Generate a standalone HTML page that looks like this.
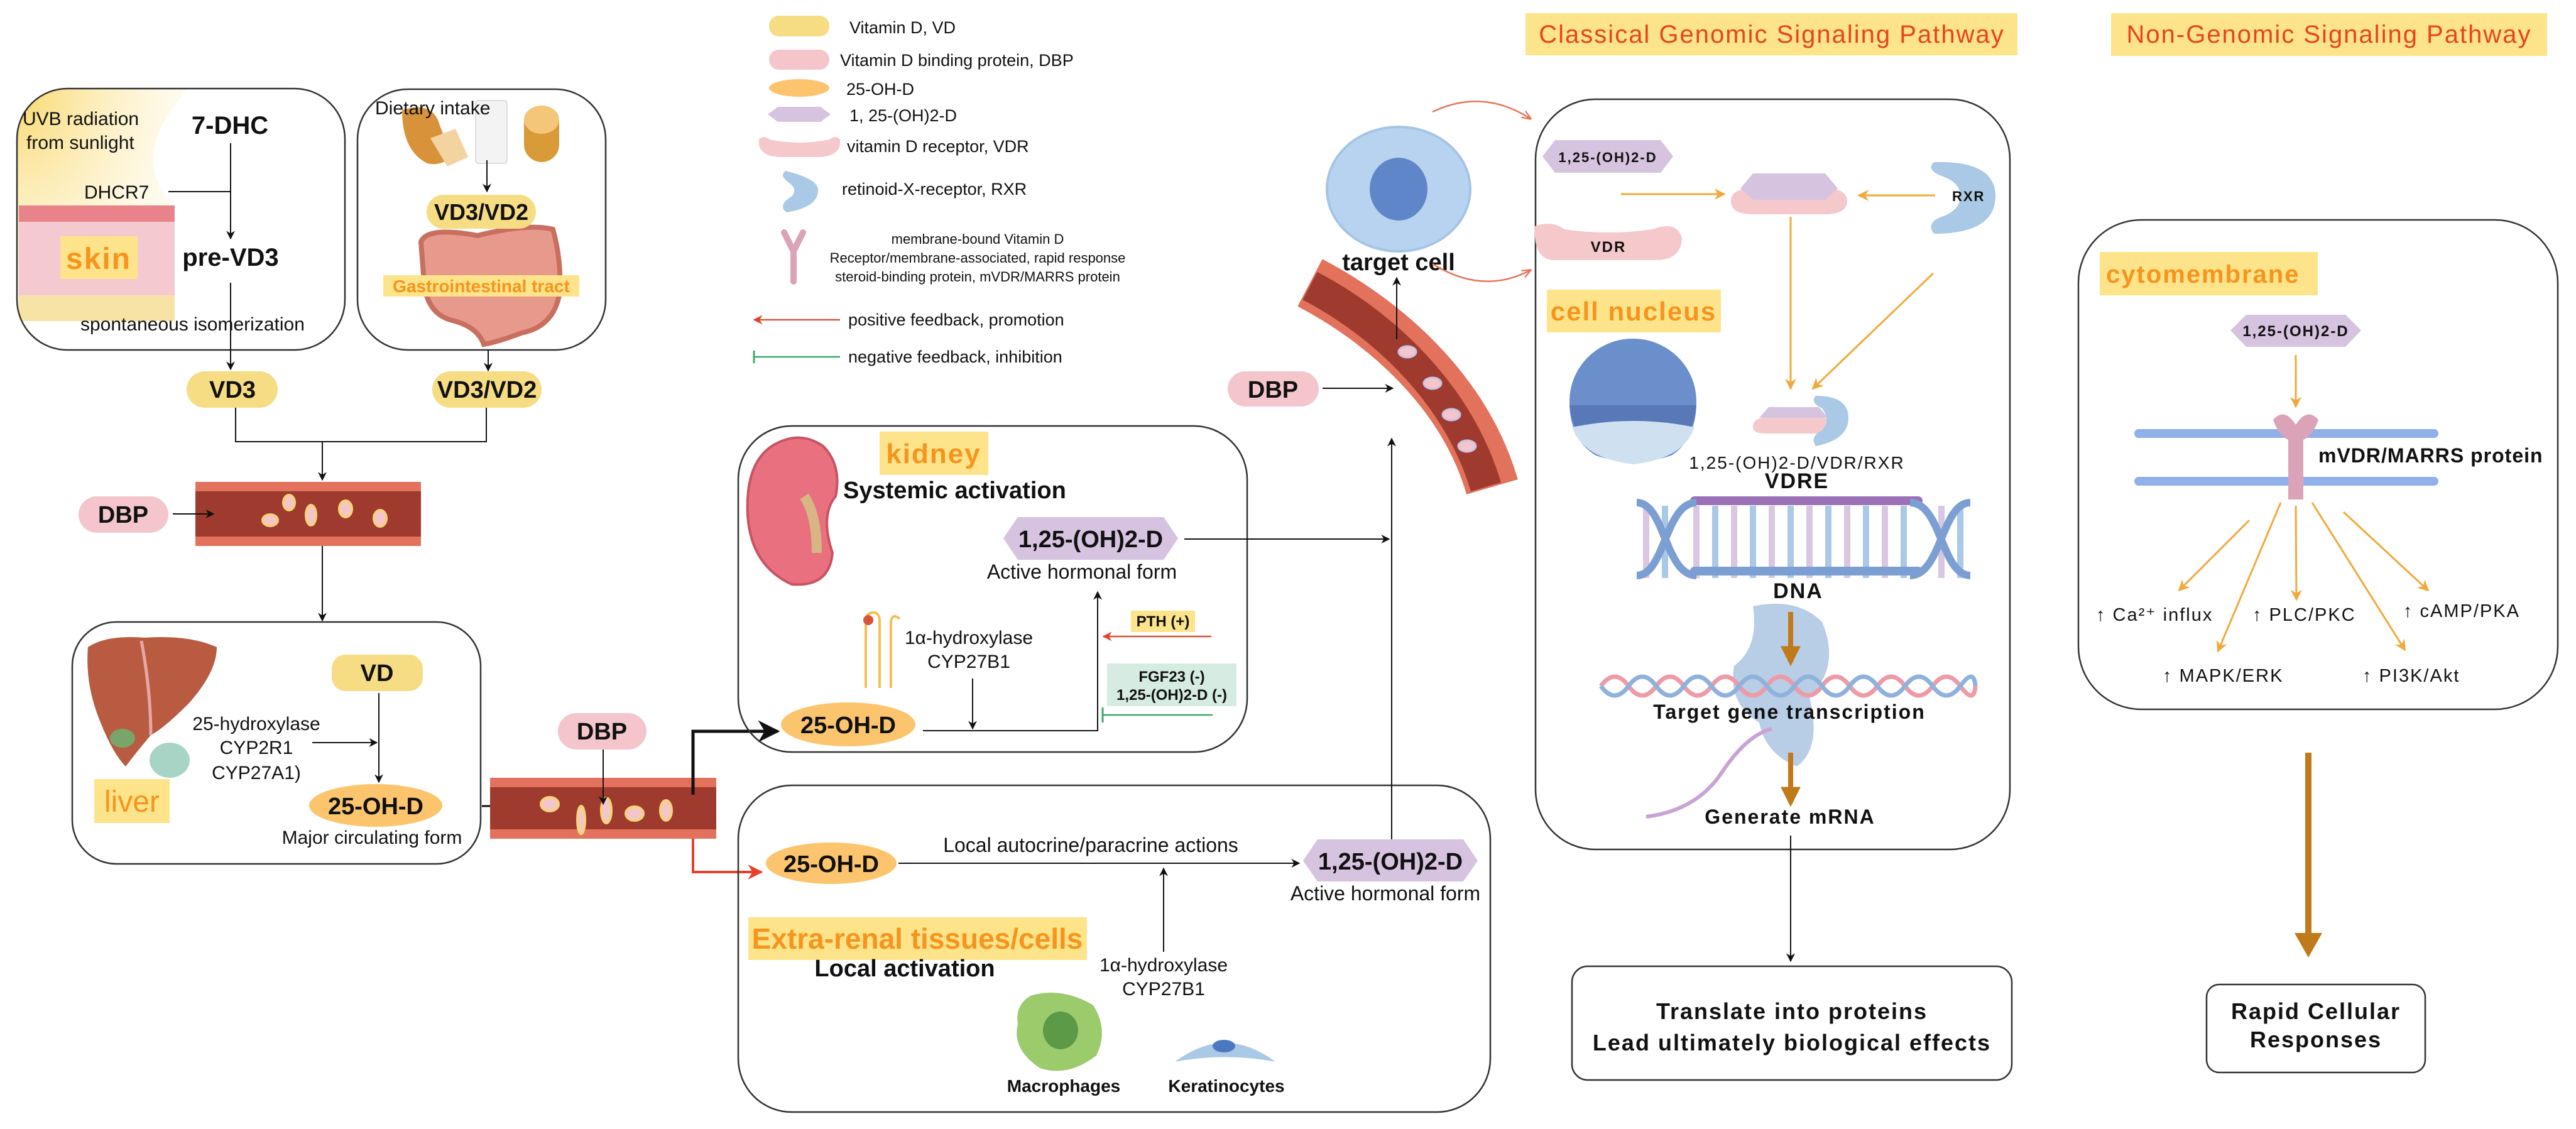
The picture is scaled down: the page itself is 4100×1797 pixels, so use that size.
<!DOCTYPE html>
<html><head><meta charset="utf-8"><style>
html,body{margin:0;padding:0;background:#fff}
svg{display:block}
.n{font-family:"Liberation Sans Narrow","Liberation Sans",sans-serif}
.w{font-family:"Liberation Sans",sans-serif;letter-spacing:2px}
</style></head><body>
<svg width="4100" height="1797" viewBox="0 0 4100 1797" xmlns="http://www.w3.org/2000/svg">
<defs>
<marker id="a" viewBox="0 0 10 10" refX="9" refY="5" markerWidth="7" markerHeight="7" orient="auto-start-reverse"><path d="M0,0L10,5L0,10L3,5z" fill="#111"/></marker>
<marker id="ar" viewBox="0 0 10 10" refX="9" refY="5" markerWidth="6" markerHeight="6" orient="auto"><path d="M0,0L10,5L0,10L3,5z" fill="#e5412a"/></marker>
<marker id="ao" viewBox="0 0 10 10" refX="9" refY="5" markerWidth="6" markerHeight="6" orient="auto"><path d="M0,0L10,5L0,10L3,5z" fill="#f2a93b"/></marker>
<marker id="ab" viewBox="0 0 10 10" refX="8" refY="5" markerWidth="4" markerHeight="4" orient="auto"><path d="M0,0L10,5L0,10z" fill="#c07a1a"/></marker>
<marker id="ac" viewBox="0 0 10 10" refX="9" refY="5" markerWidth="6" markerHeight="6" orient="auto"><path d="M0,1L10,5L0,9" fill="none" stroke="#e8735a" stroke-width="1.5"/></marker>
<radialGradient id="sun" cx="0" cy="0" r="1"><stop offset="0" stop-color="#f9d86a"/><stop offset="1" stop-color="#fdf3cf" stop-opacity="0.3"/></radialGradient>
<clipPath id="skc"><rect x="27" y="141" width="522" height="416" rx="80"/></clipPath>
<pattern id="bil" x="3397" y="0" width="16" height="100" patternUnits="userSpaceOnUse"><line x1="6" y1="690" x2="6" y2="766" stroke="#c9d3e6" stroke-width="1.5"/><line x1="10" y1="690" x2="10" y2="766" stroke="#c9d3e6" stroke-width="1.5"/></pattern>
</defs>

<!-- ===== Skin box ===== -->
<g clip-path="url(#skc)">
<path d="M27,141 L300,141 Q200,250 278,327 L278,511 L27,511 Z" fill="url(#sun)"/>
<rect x="30" y="327" width="248" height="184" fill="#f5c9d0"/>
<rect x="30" y="327" width="248" height="26" fill="#e8838a"/>
<rect x="30" y="470" width="248" height="41" fill="#f8e3a6"/>
</g>
<rect x="27" y="141" width="522" height="416" rx="80" fill="none" stroke="#333" stroke-width="2.5"/>
<rect x="96" y="376" width="123" height="68" fill="#fde48a"/>
<text x="157" y="428" text-anchor="middle" class="w" font-size="48" font-weight="bold" fill="#f7941d">skin</text>
<text x="36" y="199" class="n" font-size="30" fill="#111">UVB radiation</text>
<text x="42" y="237" class="n" font-size="30" fill="#111">from sunlight</text>
<text x="366" y="213" text-anchor="middle" class="n" font-size="40" font-weight="bold" fill="#111">7-DHC</text>
<text x="134" y="316" class="n" font-size="30" fill="#111">DHCR7</text>
<line x1="268" y1="305" x2="367" y2="305" stroke="#111" stroke-width="2"/>
<line x1="367" y1="228" x2="367" y2="380" stroke="#111" stroke-width="2" marker-end="url(#a)"/>
<text x="367" y="423" text-anchor="middle" class="n" font-size="40" font-weight="bold" fill="#111">pre-VD3</text>
<line x1="367" y1="450" x2="367" y2="588" stroke="#111" stroke-width="2" marker-end="url(#a)"/>
<text x="128" y="526" class="n" font-size="30" fill="#111">spontaneous isomerization</text>

<!-- ===== Diet box ===== -->
<rect x="569" y="142" width="395" height="415" rx="80" fill="none" stroke="#333" stroke-width="2.5"/>
<path d="M640,175 Q690,160 700,200 L720,250 Q700,265 680,260 Q640,240 640,175z" fill="#d8923a"/>
<path d="M685,220 L725,205 L745,250 L712,265 Z" fill="#f3d3a0"/>
<rect x="757" y="160" width="50" height="100" rx="5" fill="#f3f3f3" stroke="#ddd" stroke-width="2"/>
<rect x="834" y="168" width="56" height="90" rx="28" fill="#d99a38"/>
<rect x="834" y="168" width="56" height="45" rx="28" fill="#f4c679"/>
<text x="597" y="182" class="n" font-size="30" fill="#111">Dietary intake</text>
<line x1="775" y1="255" x2="775" y2="305" stroke="#111" stroke-width="2" marker-end="url(#a)"/>
<path d="M670,385 Q680,360 760,375 Q840,355 880,365 Q895,420 890,470 Q880,520 830,530 Q790,545 770,548 Q760,520 720,510 Q680,500 675,450 Z" fill="#e79a8c" stroke="#c86f5f" stroke-width="8"/>
<rect x="610" y="438" width="312" height="34" fill="#fde48a"/>
<text x="766" y="465" text-anchor="middle" class="n" font-size="28" font-weight="bold" fill="#f7941d">Gastrointestinal tract</text>
<rect x="679" y="310" width="174" height="54" rx="27" fill="#f6dc82"/>
<text x="766" y="350" text-anchor="middle" class="n" font-size="36" font-weight="bold" fill="#111">VD3/VD2</text>
<line x1="777" y1="557" x2="777" y2="590" stroke="#111" stroke-width="2" marker-end="url(#a)"/>

<!-- VD3 pills -->
<rect x="297" y="591" width="145" height="58" rx="29" fill="#f6dc82"/>
<text x="370" y="633" text-anchor="middle" class="n" font-size="38" font-weight="bold" fill="#111">VD3</text>
<rect x="688" y="591" width="174" height="58" rx="29" fill="#f6dc82"/>
<text x="775" y="633" text-anchor="middle" class="n" font-size="38" font-weight="bold" fill="#111">VD3/VD2</text>
<polyline points="375,649 375,703 774,703 774,649" fill="none" stroke="#111" stroke-width="2"/>
<line x1="513" y1="703" x2="513" y2="764" stroke="#111" stroke-width="2" marker-end="url(#a)"/>

<!-- vessel 1 -->
<rect x="311" y="767" width="359" height="102" fill="#e2725b"/>
<rect x="311" y="782" width="359" height="72" fill="#9e3a2e"/>
<g fill="#f4c6cc" stroke="#f6d27a" stroke-width="4">
<ellipse cx="430" cy="828" rx="12" ry="9"/><ellipse cx="460" cy="800" rx="9" ry="12"/><ellipse cx="495" cy="820" rx="8" ry="16"/><ellipse cx="550" cy="810" rx="10" ry="13"/><ellipse cx="605" cy="825" rx="10" ry="13"/></g>
<rect x="125" y="790" width="143" height="58" rx="29" fill="#f4c6cc"/>
<text x="196" y="832" text-anchor="middle" class="n" font-size="38" font-weight="bold" fill="#111">DBP</text>
<line x1="275" y1="818" x2="340" y2="818" stroke="#111" stroke-width="2" marker-end="url(#a)"/>
<line x1="513" y1="869" x2="513" y2="988" stroke="#111" stroke-width="2" marker-end="url(#a)"/>

<!-- ===== Liver box ===== -->
<rect x="115" y="990" width="650" height="385" rx="70" fill="none" stroke="#333" stroke-width="2.5"/>
<path d="M140,1030 Q170,1010 230,1015 Q300,1010 345,1030 Q345,1070 300,1120 Q260,1160 240,1170 Q215,1200 200,1220 Q180,1200 160,1150 Q135,1090 140,1030z" fill="#b85b40"/>
<path d="M225,1020 Q240,1100 240,1170" stroke="#e8a6a6" stroke-width="5" fill="none"/>
<ellipse cx="195" cy="1175" rx="20" ry="15" fill="#7aa56a"/>
<ellipse cx="270" cy="1210" rx="32" ry="28" fill="#a8d4c6"/>
<rect x="150" y="1240" width="120" height="70" fill="#fde48a"/>
<text x="210" y="1292" text-anchor="middle" class="n" font-size="48" fill="#f7941d">liver</text>
<rect x="528" y="1042" width="145" height="58" rx="22" fill="#f6dc82"/>
<text x="600" y="1084" text-anchor="middle" class="n" font-size="38" font-weight="bold" fill="#111">VD</text>
<text x="408" y="1162" text-anchor="middle" class="n" font-size="30" fill="#111">25-hydroxylase</text>
<text x="408" y="1200" text-anchor="middle" class="n" font-size="30" fill="#111">CYP2R1</text>
<text x="408" y="1240" text-anchor="middle" class="n" font-size="30" fill="#111">CYP27A1)</text>
<line x1="497" y1="1182" x2="600" y2="1182" stroke="#111" stroke-width="2" marker-end="url(#a)"/>
<line x1="603" y1="1103" x2="603" y2="1245" stroke="#111" stroke-width="2" marker-end="url(#a)"/>
<ellipse cx="598" cy="1282" rx="106" ry="34" fill="#fcc56d"/>
<text x="598" y="1296" text-anchor="middle" class="n" font-size="38" font-weight="bold" fill="#111">25-OH-D</text>
<text x="592" y="1343" text-anchor="middle" class="n" font-size="30" fill="#111">Major circulating form</text>
<line x1="767" y1="1283" x2="828" y2="1283" stroke="#111" stroke-width="3" marker-end="url(#a)"/>

<!-- vessel 2 -->
<rect x="780" y="1238" width="360" height="97" fill="#e2725b"/>
<rect x="780" y="1253" width="360" height="67" fill="#9e3a2e"/>
<g fill="#f4c6cc" stroke="#f6d27a" stroke-width="4">
<ellipse cx="875" cy="1280" rx="14" ry="11"/><ellipse cx="925" cy="1305" rx="6" ry="22"/><ellipse cx="965" cy="1290" rx="8" ry="20"/><ellipse cx="1010" cy="1295" rx="14" ry="11"/><ellipse cx="1060" cy="1290" rx="9" ry="16"/></g>
<rect x="888" y="1135" width="141" height="58" rx="29" fill="#f4c6cc"/>
<text x="958" y="1177" text-anchor="middle" class="n" font-size="38" font-weight="bold" fill="#111">DBP</text>
<line x1="960" y1="1193" x2="960" y2="1280" stroke="#111" stroke-width="2" marker-end="url(#a)"/>
<polyline points="1103,1265 1103,1164 1238,1164" fill="none" stroke="#111" stroke-width="5" marker-end="url(#a)"/>
<polyline points="1103,1335 1103,1388 1212,1388" fill="none" stroke="#e5412a" stroke-width="4" marker-end="url(#ar)"/>

<!-- ===== Legend ===== -->
<rect x="1224" y="25" width="96" height="33" rx="16" fill="#f6dc82"/>
<text x="1352" y="53" class="n" font-size="27" fill="#111">Vitamin D, VD</text>
<rect x="1224" y="79" width="96" height="32" rx="16" fill="#f4c6cc"/>
<text x="1337" y="105" class="n" font-size="27" fill="#111">Vitamin D binding protein, DBP</text>
<ellipse cx="1272" cy="140" rx="48" ry="14" fill="#fcc56d"/>
<text x="1347" y="151" class="n" font-size="27" fill="#111">25-OH-D</text>
<path d="M1222,182 L1238,170 H1306 L1322,182 L1306,194 H1238 Z" fill="#d6c3e0"/>
<text x="1352" y="193" class="n" font-size="27" fill="#111">1, 25-(OH)2-D</text>
<path d="M1208,222 Q1215,214 1225,222 Q1272,232 1320,222 Q1330,214 1337,222 Q1340,250 1300,250 H1245 Q1205,250 1208,222z" fill="#f5c9cc"/>
<text x="1348" y="242" class="n" font-size="27" fill="#111">vitamin D receptor, VDR</text>
<path d="M1250,272 Q1305,285 1302,305 Q1300,330 1252,338 Q1240,330 1252,318 Q1275,305 1255,290 Q1240,280 1250,272z" fill="#a9c9e6"/>
<text x="1340" y="310" class="n" font-size="27" fill="#111">retinoid-X-receptor, RXR</text>
<path d="M1248,370 L1263,400 L1278,370 M1263,400 V448" stroke="#dba3b8" stroke-width="10" fill="none" stroke-linecap="round"/>
<text x="1556" y="388" text-anchor="middle" class="n" font-size="22" fill="#111">membrane-bound Vitamin D</text>
<text x="1556" y="418" text-anchor="middle" class="n" font-size="22" fill="#111">Receptor/membrane-associated, rapid response</text>
<text x="1556" y="448" text-anchor="middle" class="n" font-size="22" fill="#111">steroid-binding protein, mVDR/MARRS protein</text>
<line x1="1337" y1="509" x2="1200" y2="509" stroke="#d9533a" stroke-width="2.5" marker-end="url(#ar)"/>
<text x="1350" y="518" class="n" font-size="27" fill="#111">positive feedback, promotion</text>
<line x1="1200" y1="568" x2="1337" y2="568" stroke="#3aa86e" stroke-width="2.5"/>
<line x1="1200" y1="558" x2="1200" y2="578" stroke="#3aa86e" stroke-width="3"/>
<text x="1350" y="577" class="n" font-size="27" fill="#111">negative feedback, inhibition</text>

<!-- ===== Kidney box ===== -->
<rect x="1175" y="678" width="810" height="519" rx="85" fill="none" stroke="#333" stroke-width="2.5"/>
<path d="M1250,700 Q1185,720 1190,820 Q1195,900 1260,930 Q1320,935 1325,880 Q1305,820 1330,790 Q1340,740 1310,710 Q1280,690 1250,700z" fill="#e9717f" stroke="#c85362" stroke-width="4"/>
<path d="M1280,790 Q1300,820 1300,880" stroke="#d8b585" stroke-width="16" fill="none"/>
<rect x="1400" y="687" width="173" height="69" fill="#fde48a"/>
<text x="1486" y="737" text-anchor="middle" class="w" font-size="44" font-weight="bold" fill="#f7941d">kidney</text>
<text x="1342" y="793" class="n" font-size="38" font-weight="bold" fill="#111">Systemic activation</text>
<path d="M1597,857 L1620,823 H1852 L1875,857 L1852,891 H1620 Z" fill="#d6c3e0"/>
<text x="1736" y="871" text-anchor="middle" class="n" font-size="38" font-weight="bold" fill="#111">1,25-(OH)2-D</text>
<text x="1722" y="921" text-anchor="middle" class="n" font-size="32" fill="#111">Active hormonal form</text>
<line x1="1885" y1="858" x2="2211" y2="858" stroke="#111" stroke-width="2" marker-end="url(#a)"/>
<path d="M1378,1095 V990 Q1378,975 1390,975 Q1400,975 1400,990 V1095 M1418,1095 V990 Q1420,975 1432,985" stroke="#f3c052" stroke-width="4" fill="none"/>
<circle cx="1382" cy="987" r="8" fill="#d9533a"/>
<text x="1542" y="1025" text-anchor="middle" class="n" font-size="30" fill="#111">1α-hydroxylase</text>
<text x="1542" y="1063" text-anchor="middle" class="n" font-size="30" fill="#111">CYP27B1</text>
<line x1="1548" y1="1080" x2="1548" y2="1160" stroke="#111" stroke-width="2" marker-end="url(#a)"/>
<polyline points="1469,1163 1747,1163 1747,942" fill="none" stroke="#111" stroke-width="2" marker-end="url(#a)"/>
<rect x="1800" y="972" width="102" height="34" fill="#fde48a"/>
<text x="1851" y="997" text-anchor="middle" class="n" font-size="24" font-weight="bold" fill="#111">PTH (+)</text>
<line x1="1928" y1="1013" x2="1756" y2="1013" stroke="#d9533a" stroke-width="2.5" marker-end="url(#ar)"/>
<rect x="1762" y="1056" width="206" height="68" fill="#d6ece3"/>
<text x="1865" y="1085" text-anchor="middle" class="n" font-size="24" font-weight="bold" fill="#111">FGF23 (-)</text>
<text x="1865" y="1114" text-anchor="middle" class="n" font-size="24" font-weight="bold" fill="#111">1,25-(OH)2-D (-)</text>
<line x1="1755" y1="1138" x2="1930" y2="1138" stroke="#3aa86e" stroke-width="2.5"/>
<line x1="1755" y1="1126" x2="1755" y2="1150" stroke="#3aa86e" stroke-width="3"/>
<ellipse cx="1350" cy="1153" rx="107" ry="35" fill="#fcc56d"/>
<text x="1350" y="1167" text-anchor="middle" class="n" font-size="38" font-weight="bold" fill="#111">25-OH-D</text>

<!-- ===== Extra-renal box ===== -->
<rect x="1175" y="1250" width="1197" height="520" rx="85" fill="none" stroke="#333" stroke-width="2.5"/>
<ellipse cx="1323" cy="1374" rx="104" ry="33" fill="#fcc56d"/>
<text x="1323" y="1388" text-anchor="middle" class="n" font-size="38" font-weight="bold" fill="#111">25-OH-D</text>
<text x="1736" y="1356" text-anchor="middle" class="n" font-size="32" fill="#111">Local autocrine/paracrine actions</text>
<line x1="1430" y1="1374" x2="2068" y2="1374" stroke="#111" stroke-width="2" marker-end="url(#a)"/>
<path d="M2074,1370 L2097,1336 H2329 L2352,1370 L2329,1403 H2097 Z" fill="#d6c3e0"/>
<text x="2213" y="1384" text-anchor="middle" class="n" font-size="38" font-weight="bold" fill="#111">1,25-(OH)2-D</text>
<text x="2205" y="1433" text-anchor="middle" class="n" font-size="32" fill="#111">Active hormonal form</text>
<line x1="2215" y1="1336" x2="2215" y2="698" stroke="#111" stroke-width="2" marker-end="url(#a)"/>
<line x1="1852" y1="1515" x2="1852" y2="1382" stroke="#111" stroke-width="2" marker-end="url(#a)"/>
<text x="1852" y="1546" text-anchor="middle" class="n" font-size="30" fill="#111">1α-hydroxylase</text>
<text x="1852" y="1584" text-anchor="middle" class="n" font-size="30" fill="#111">CYP27B1</text>
<rect x="1191" y="1460" width="539" height="68" fill="#fde48a"/>
<text x="1460" y="1510" text-anchor="middle" class="n" font-size="46" font-weight="bold" fill="#f7941d">Extra-renal tissues/cells</text>
<text x="1440" y="1554" text-anchor="middle" class="n" font-size="38" font-weight="bold" fill="#111">Local activation</text>
<path d="M1640,1585 Q1690,1570 1740,1600 Q1765,1640 1745,1680 Q1700,1715 1655,1700 Q1610,1670 1620,1630 Q1615,1600 1640,1585z" fill="#9ccb6c"/>
<ellipse cx="1688" cy="1640" rx="28" ry="30" fill="#5c9a48"/>
<path d="M1870,1690 Q1950,1630 2030,1690 Q1950,1675 1870,1690z" fill="#a9c9e6"/>
<ellipse cx="1948" cy="1665" rx="18" ry="10" fill="#4b78c0"/>
<text x="1693" y="1738" text-anchor="middle" class="n" font-size="28" font-weight="bold" fill="#111">Macrophages</text>
<text x="1952" y="1738" text-anchor="middle" class="n" font-size="28" font-weight="bold" fill="#111">Keratinocytes</text>

<!-- ===== target cell & vessel 3 ===== -->
<ellipse cx="2226" cy="301" rx="114" ry="99" fill="#b7d3ef" stroke="#a5c4e6" stroke-width="4"/>
<ellipse cx="2226" cy="301" rx="46" ry="50" fill="#5f86c8"/>
<text x="2226" y="430" text-anchor="middle" class="n" font-size="38" font-weight="bold" fill="#111">target cell</text>
<path d="M2280,178 Q2360,140 2436,189" fill="none" stroke="#e8735a" stroke-width="2.5" marker-end="url(#ac)"/>
<path d="M2280,420 Q2360,470 2436,430" fill="none" stroke="#e8735a" stroke-width="2.5" marker-end="url(#ac)"/>
<path d="M2085,450 C2200,510 2330,620 2375,775" fill="none" stroke="#e2725b" stroke-width="85"/>
<path d="M2085,455 C2200,515 2320,625 2365,775" fill="none" stroke="#9e3a2e" stroke-width="50"/>
<g fill="#f4c6cc" stroke="#c8c2e6" stroke-width="3">
<ellipse cx="2240" cy="560" rx="14" ry="9"/><ellipse cx="2280" cy="610" rx="14" ry="9"/><ellipse cx="2310" cy="660" rx="14" ry="9"/><ellipse cx="2335" cy="710" rx="14" ry="9"/></g>
<line x1="2223" y1="540" x2="2223" y2="442" stroke="#111" stroke-width="2" marker-end="url(#a)"/>
<rect x="1954" y="591" width="145" height="56" rx="28" fill="#f4c6cc"/>
<text x="2026" y="633" text-anchor="middle" class="n" font-size="38" font-weight="bold" fill="#111">DBP</text>
<line x1="2105" y1="618" x2="2217" y2="618" stroke="#111" stroke-width="2" marker-end="url(#a)"/>

<!-- ===== Classical pathway ===== -->
<rect x="2428" y="21" width="783" height="67" fill="#fde48a"/>
<text x="2820" y="68" text-anchor="middle" class="w" font-size="40" fill="#e8431d">Classical Genomic Signaling Pathway</text>
<rect x="2444" y="158" width="755" height="1194" rx="95" fill="none" stroke="#333" stroke-width="2.5"/>
<path d="M2455,249 L2475,223 H2643 L2663,249 L2643,275 H2475 Z" fill="#d6c3e0"/>
<text x="2559" y="258" text-anchor="middle" class="w" font-size="22" font-weight="bold" fill="#111">1,25-(OH)2-D</text>
<path d="M2443,360 Q2470,350 2490,365 Q2560,375 2630,365 Q2670,350 2677,380 Q2675,412 2640,414 H2470 Q2440,410 2443,360z" fill="#f5c9cc"/>
<text x="2560" y="401" text-anchor="middle" class="w" font-size="24" font-weight="bold" fill="#111">VDR</text>
<path d="M2755,320 Q2755,300 2790,300 H2905 Q2940,300 2940,320 Q2940,341 2905,341 H2790 Q2755,341 2755,320z" fill="#f5c9cc"/>
<path d="M2770,300 L2790,276 H2905 L2925,300 L2905,318 H2790 Z" fill="#d6c3e0"/>
<line x1="2580" y1="309" x2="2745" y2="309" stroke="#f2a93b" stroke-width="3" marker-end="url(#ao)"/>
<path d="M3078,258 Q3176,255 3176,312 Q3176,372 3078,372 Q3065,355 3090,345 Q3120,335 3120,312 Q3120,290 3090,280 Q3065,270 3078,258z" fill="#a9c9e6"/>
<text x="3107" y="320" class="w" font-size="22" font-weight="bold" fill="#111">RXR</text>
<line x1="3080" y1="311" x2="2958" y2="311" stroke="#f2a93b" stroke-width="3" marker-end="url(#ao)"/>
<line x1="2850" y1="345" x2="2850" y2="619" stroke="#f2a93b" stroke-width="3" marker-end="url(#ao)"/>
<line x1="3077" y1="435" x2="2885" y2="619" stroke="#f2a93b" stroke-width="3" marker-end="url(#ao)"/>
<rect x="2462" y="461" width="277" height="68" fill="#fde48a"/>
<text x="2600" y="510" text-anchor="middle" class="w" font-size="42" font-weight="bold" fill="#f7941d">cell nucleus</text>
<path d="M2498,639 A101,100 0 0 1 2700,639 Q2700,700 2660,725 Q2600,745 2540,725 Q2498,700 2498,639z" fill="#6a8fcb"/>
<path d="M2498,645 H2700 Q2695,720 2600,739 Q2505,720 2498,645z" fill="#5878b8"/>
<path d="M2502,680 Q2600,660 2697,680 Q2680,730 2600,739 Q2520,730 2502,680z" fill="#cfe1f1"/>
<path d="M2790,680 Q2790,665 2810,665 H2900 Q2920,665 2920,680 Q2920,690 2900,690 H2810 Q2790,690 2790,680z" fill="#f5c9cc"/>
<path d="M2800,665 L2815,648 H2895 L2910,665 Z" fill="#d6c3e0"/>
<path d="M2890,630 Q2942,630 2942,665 Q2942,700 2890,710 Q2880,695 2900,685 Q2915,668 2900,650 Q2880,640 2890,630z" fill="#a9c9e6"/>
<text x="2860" y="746" text-anchor="middle" class="w" font-size="28" fill="#111">1,25-(OH)2-D/VDR/RXR</text>
<text x="2860" y="777" text-anchor="middle" class="w" font-size="34" font-weight="bold" fill="#111">VDRE</text>
<g>
<rect x="2605" y="800" width="531" height="116" fill="#fff"/>
<g stroke-width="10">
<line x1="2620" y1="805" x2="2620" y2="920" stroke="#d9c7e2"/><line x1="2650" y1="805" x2="2650" y2="920" stroke="#a9c9e6"/>
<line x1="2700" y1="805" x2="2700" y2="920" stroke="#d9c7e2"/><line x1="2730" y1="805" x2="2730" y2="920" stroke="#a9c9e6"/>
<line x1="2760" y1="805" x2="2760" y2="920" stroke="#d9c7e2"/><line x1="2790" y1="805" x2="2790" y2="920" stroke="#a9c9e6"/>
<line x1="2820" y1="805" x2="2820" y2="920" stroke="#d9c7e2"/><line x1="2850" y1="805" x2="2850" y2="920" stroke="#a9c9e6"/>
<line x1="2880" y1="805" x2="2880" y2="920" stroke="#d9c7e2"/><line x1="2910" y1="805" x2="2910" y2="920" stroke="#a9c9e6"/>
<line x1="2940" y1="805" x2="2940" y2="920" stroke="#d9c7e2"/><line x1="2970" y1="805" x2="2970" y2="920" stroke="#a9c9e6"/>
<line x1="3000" y1="805" x2="3000" y2="920" stroke="#d9c7e2"/><line x1="3030" y1="805" x2="3030" y2="920" stroke="#a9c9e6"/>
<line x1="3090" y1="805" x2="3090" y2="920" stroke="#d9c7e2"/><line x1="3120" y1="805" x2="3120" y2="920" stroke="#a9c9e6"/>
</g>
<rect x="2690" y="790" width="370" height="14" rx="7" fill="#9b72b8"/>
<path d="M2605,800 C2650,800 2650,916 2700,916 M2605,916 C2650,916 2650,800 2700,800 M3040,800 C3090,800 3090,916 3136,916 M3040,916 C3090,916 3090,800 3136,800" stroke="#7c9fd3" stroke-width="12" fill="none"/>
<rect x="2690" y="902" width="370" height="14" rx="7" fill="#7c9fd3"/>
</g>
<text x="2862" y="952" text-anchor="middle" class="w" font-size="34" font-weight="bold" fill="#111">DNA</text>
<path d="M2790,965 Q2860,950 2900,990 Q2930,1060 2880,1110 Q2900,1190 2860,1220 Q2810,1200 2800,1150 Q2750,1120 2760,1060 Q2800,1030 2790,965z" fill="#b8cde6"/>
<path d="M2548,1092 Q2570,1062 2592,1092 T2636,1092 T2680,1092 T2724,1092 T2768,1092 T2812,1092 T2856,1092 T2900,1092 T2944,1092 T2988,1092 T3032,1092 T3076,1092 T3120,1092 T3144,1092" stroke="#ee9aa7" stroke-width="7" fill="none"/>
<path d="M2548,1092 Q2570,1122 2592,1092 T2636,1092 T2680,1092 T2724,1092 T2768,1092 T2812,1092 T2856,1092 T2900,1092 T2944,1092 T2988,1092 T3032,1092 T3076,1092 T3120,1092 T3144,1092" stroke="#8fb2dd" stroke-width="7" fill="none"/>
<line x1="2850" y1="974" x2="2850" y2="1054" stroke="#c07a1a" stroke-width="8" marker-end="url(#ab)"/>
<text x="2848" y="1144" text-anchor="middle" class="w" font-size="32" font-weight="bold" fill="#111">Target gene transcription</text>
<path d="M2620,1300 Q2700,1290 2740,1230 Q2780,1170 2820,1160" stroke="#c9a2d6" stroke-width="6" fill="none"/>
<line x1="2850" y1="1198" x2="2850" y2="1278" stroke="#c07a1a" stroke-width="8" marker-end="url(#ab)"/>
<text x="2849" y="1311" text-anchor="middle" class="w" font-size="32" font-weight="bold" fill="#111">Generate mRNA</text>
<line x1="2850" y1="1330" x2="2850" y2="1530" stroke="#111" stroke-width="2" marker-end="url(#a)"/>
<rect x="2502" y="1538" width="700" height="181" rx="25" fill="none" stroke="#333" stroke-width="2.5"/>
<text x="2852" y="1622" text-anchor="middle" class="w" font-size="36" font-weight="bold" fill="#111">Translate into proteins</text>
<text x="2852" y="1672" text-anchor="middle" class="w" font-size="36" font-weight="bold" fill="#111">Lead ultimately biological effects</text>

<!-- ===== Non-genomic ===== -->
<rect x="3360" y="21" width="694" height="68" fill="#fde48a"/>
<text x="3707" y="68" text-anchor="middle" class="w" font-size="40" fill="#e8431d">Non-Genomic Signaling Pathway</text>
<rect x="3308" y="350" width="763" height="779" rx="100" fill="none" stroke="#333" stroke-width="2.5"/>
<rect x="3342" y="401" width="347" height="69" fill="#fde48a"/>
<text x="3352" y="450" class="w" font-size="40" font-weight="bold" fill="#f7941d">cytomembrane</text>
<path d="M3550,526 L3575,501 H3733 L3758,526 L3733,552 H3575 Z" fill="#d6c3e0"/>
<text x="3654" y="535" text-anchor="middle" class="w" font-size="24" font-weight="bold" fill="#111">1,25-(OH)2-D</text>
<line x1="3654" y1="565" x2="3654" y2="648" stroke="#f2a93b" stroke-width="3" marker-end="url(#ao)"/>
<rect x="3397" y="690" width="484" height="76" fill="url(#bil)"/>
<g fill="#8fb0e8">
<rect x="3397" y="683" width="484" height="14" rx="7"/><rect x="3397" y="759" width="484" height="14" rx="7"/></g>
<path d="M3618,668 Q3636,648 3654,676 Q3672,648 3690,668 Q3682,692 3666,700 V795 H3642 V700 Q3626,692 3618,668z" fill="#dba3b8"/>
<text x="3690" y="736" class="w" font-size="32" font-weight="bold" fill="#111" style="letter-spacing:1px">mVDR/MARRS protein</text>
<g stroke="#f2a93b" stroke-width="3" marker-end="url(#ao)">
<line x1="3580" y1="828" x2="3468" y2="940"/>
<line x1="3630" y1="800" x2="3530" y2="1037"/>
<line x1="3654" y1="805" x2="3655" y2="955"/>
<line x1="3680" y1="800" x2="3828" y2="1035"/>
<line x1="3730" y1="815" x2="3865" y2="940"/>
</g>
<g class="w" font-size="29" fill="#111">
<text x="3336" y="988">↑ Ca²⁺ influx</text>
<text x="3585" y="988">↑ PLC/PKC</text>
<text x="3825" y="982">↑ cAMP/PKA</text>
<text x="3442" y="1085">↑ MAPK/ERK</text>
<text x="3760" y="1085">↑ PI3K/Akt</text>
</g>
<rect x="3669" y="1198" width="10" height="290" fill="#c07a1a"/>
<path d="M3652,1485 H3696 L3674,1524 Z" fill="#c07a1a"/>
<rect x="3512" y="1567" width="348" height="140" rx="20" fill="none" stroke="#333" stroke-width="2.5"/>
<text x="3686" y="1622" text-anchor="middle" class="w" font-size="36" font-weight="bold" fill="#111">Rapid Cellular</text>
<text x="3686" y="1667" text-anchor="middle" class="w" font-size="36" font-weight="bold" fill="#111">Responses</text>
</svg>
</body></html>
